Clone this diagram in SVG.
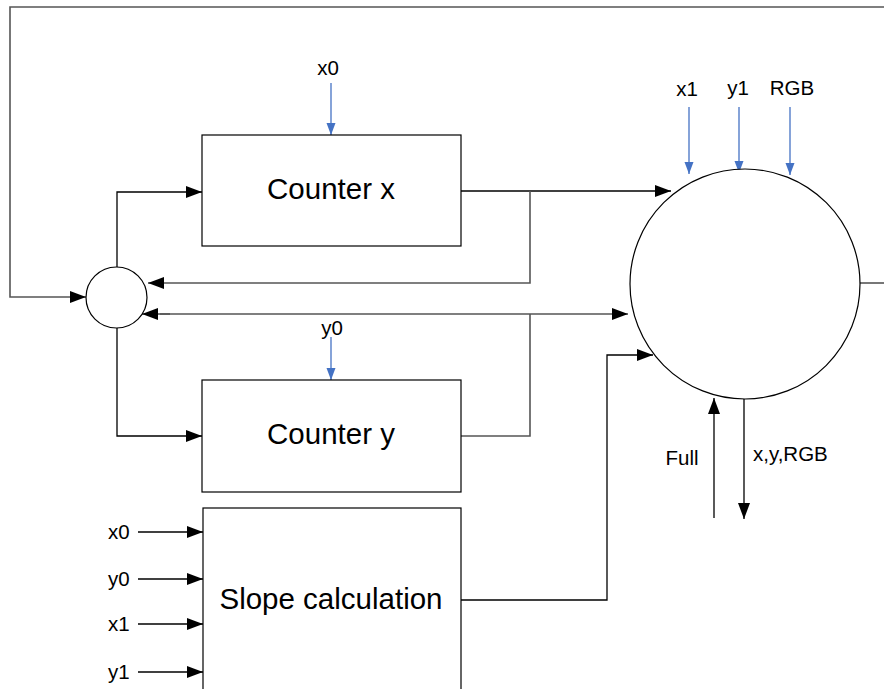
<svg xmlns="http://www.w3.org/2000/svg" width="884" height="689" viewBox="0 0 884 689">
<style>
.box{fill:#fff;stroke:#000;stroke-width:1.2}
.ln{fill:none;stroke:#000;stroke-width:1.3}
.gl{fill:none;stroke:#555;stroke-width:1.6}
.bl{fill:none;stroke:#4472C4;stroke-width:1.3}
.big{font-family:"Liberation Sans",Arial,sans-serif;font-size:29.5px;fill:#000;text-anchor:middle}
.sm{font-family:"Liberation Sans",Arial,sans-serif;font-size:20.5px;fill:#000}
</style>
<defs>
<marker id="ah" markerWidth="16" markerHeight="12" refX="16" refY="6" orient="auto" markerUnits="userSpaceOnUse">
<path d="M0,0 L16,6 L0,12 Z" fill="#000"/>
</marker>
<marker id="bh" markerWidth="12" markerHeight="16" refX="16" refY="6" orient="auto" markerUnits="userSpaceOnUse" viewBox="0 0 16 12">
<path d="M0,0 L16,6 L0,12 Z" fill="#4472C4"/>
</marker>
</defs>
<g id="connectors">
<polyline class="gl" points="884,7 10,7 10,297 86,297" marker-end="url(#ah)"/>
<line class="gl" x1="860" y1="283" x2="884" y2="283"/>
<polyline class="ln" points="117,267 117,192 202,192" marker-end="url(#ah)"/>
<polyline class="ln" points="117,328 117,436 202,436" marker-end="url(#ah)"/>
<line class="ln" x1="461" y1="191" x2="671" y2="191" marker-end="url(#ah)"/>
<polyline class="gl" points="530,191 530,283 148,283" marker-end="url(#ah)"/>
<line class="gl" x1="160" y1="314" x2="628" y2="314" marker-end="url(#ah)"/>
<line class="gl" x1="170" y1="314" x2="142" y2="314" marker-end="url(#ah)"/>
<polyline class="gl" points="530,314 530,436 461,436"/>
<polyline class="ln" points="461,600 607,600 607,355 653,355" marker-end="url(#ah)"/>
<line class="ln" x1="138" y1="532" x2="203" y2="532" marker-end="url(#ah)"/>
<line class="ln" x1="138" y1="579" x2="203" y2="579" marker-end="url(#ah)"/>
<line class="ln" x1="138" y1="624" x2="203" y2="624" marker-end="url(#ah)"/>
<line class="ln" x1="138" y1="672" x2="203" y2="672" marker-end="url(#ah)"/>
<line class="ln" x1="714" y1="518" x2="714" y2="398" marker-end="url(#ah)"/>
<line class="ln" x1="744" y1="399" x2="744" y2="519" marker-end="url(#ah)"/>
<line class="bl" x1="331" y1="83" x2="331" y2="135" marker-end="url(#bh)"/>
<line class="bl" x1="331" y1="337" x2="331" y2="380" marker-end="url(#bh)"/>
<line class="bl" x1="689" y1="107" x2="689" y2="174" marker-end="url(#bh)"/>
<line class="bl" x1="739" y1="107" x2="739" y2="173" marker-end="url(#bh)"/>
<line class="bl" x1="790" y1="107" x2="790" y2="175" marker-end="url(#bh)"/>
</g>
<g id="junction">
<circle cx="116.5" cy="297.5" r="30.5" fill="#fff" stroke="#000" stroke-width="1.2"/>
</g>
<g id="counter-x">
<rect class="box" x="202" y="135" width="259" height="111"/>
<text class="big" x="331" y="199">Counter x</text>
</g>
<g id="counter-y">
<rect class="box" x="202" y="380" width="259" height="112"/>
<text class="big" x="331" y="444">Counter y</text>
</g>
<g id="slope">
<rect class="box" x="203" y="508" width="258" height="200"/>
<text class="big" x="331" y="609">Slope calculation</text>
</g>
<g id="main-circle">
<circle cx="745" cy="284" r="115" fill="#fff" stroke="#000" stroke-width="1.2"/>
</g>
<g id="labels">
<text class="sm" x="328" y="75" text-anchor="middle">x0</text>
<text class="sm" x="332" y="335" text-anchor="middle">y0</text>
<text class="sm" x="687" y="96" text-anchor="middle">x1</text>
<text class="sm" x="738" y="95" text-anchor="middle">y1</text>
<text class="sm" x="792" y="95" text-anchor="middle">RGB</text>
<text class="sm" x="682" y="465" text-anchor="middle">Full</text>
<text class="sm" x="753" y="461">x,y,RGB</text>
<text class="sm" x="108" y="539">x0</text>
<text class="sm" x="108" y="586">y0</text>
<text class="sm" x="108" y="631">x1</text>
<text class="sm" x="108" y="679">y1</text>
</g>
</svg>
